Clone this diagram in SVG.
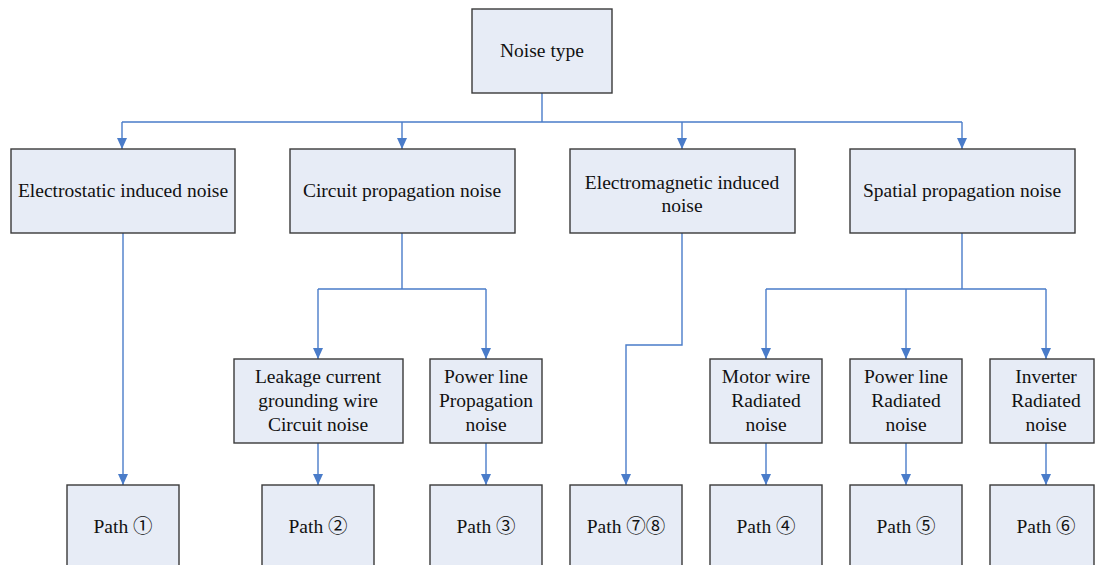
<svg xmlns="http://www.w3.org/2000/svg" width="1096" height="565" viewBox="0 0 1096 565">
  <style>
    .box { fill: #e7ecf6; stroke: #3a3a3a; stroke-width: 1.4; }
    .lbl { font-family: "Liberation Serif", "Times New Roman", "Noto Sans CJK SC", serif; font-size: 19.5px; fill: #111; text-anchor: middle; }
    .wire { fill: none; stroke: #4a7cc9; stroke-width: 1.4; }
    .arrow { fill: none; stroke: #4a7cc9; stroke-width: 1.4; marker-end: url(#tip); }
  </style>
  <defs>
    <!-- filled triangular head, pointing along the line direction -->
    <marker id="tip" viewBox="0 0 11 10" refX="11" refY="5" markerWidth="11" markerHeight="10" markerUnits="userSpaceOnUse" orient="auto">
      <path d="M0,0 L11,5 L0,10 Z" fill="#4a7cc9"/>
    </marker>
  </defs>
  <rect width="1096" height="565" fill="#ffffff"/>

  <!-- connectors -->
  <g id="connectors">
    <path class="wire" d="M542,93 V122 M122,122 H962"/>
    <path class="arrow" d="M122,122 V149"/>
    <path class="arrow" d="M402,122 V149"/>
    <path class="arrow" d="M682,122 V149"/>
    <path class="arrow" d="M962,122 V149"/>

    <path class="arrow" d="M123,233 V485"/>

    <path class="wire" d="M402,233 V289 M318,289 H486"/>
    <path class="arrow" d="M318,289 V359"/>
    <path class="arrow" d="M486,289 V359"/>

    <path class="arrow" d="M682,233 V345 H626 V485"/>

    <path class="wire" d="M962,233 V289 M766,289 H1046"/>
    <path class="arrow" d="M766,289 V359"/>
    <path class="arrow" d="M906,289 V359"/>
    <path class="arrow" d="M1046,289 V359"/>

    <path class="arrow" d="M318,443 V485"/>
    <path class="arrow" d="M486,443 V485"/>
    <path class="arrow" d="M766,443 V485"/>
    <path class="arrow" d="M906,443 V485"/>
    <path class="arrow" d="M1046,443 V485"/>
  </g>

  <!-- root -->
  <g id="noise-type">
    <rect class="box" x="472" y="9" width="140" height="84"/>
    <text class="lbl" x="542" y="57">Noise type</text>
  </g>

  <!-- first level -->
  <g id="electrostatic">
    <rect class="box" x="11" y="149" width="224" height="84"/>
    <text class="lbl" x="123" y="197">Electrostatic induced noise</text>
  </g>
  <g id="circuit">
    <rect class="box" x="290" y="149" width="225" height="84"/>
    <text class="lbl" x="402" y="197">Circuit propagation noise</text>
  </g>
  <g id="electromagnetic">
    <rect class="box" x="570" y="149" width="225" height="84"/>
    <text class="lbl" x="682" y="189">Electromagnetic induced</text>
    <text class="lbl" x="682" y="212">noise</text>
  </g>
  <g id="spatial">
    <rect class="box" x="850" y="149" width="225" height="84"/>
    <text class="lbl" x="962" y="197">Spatial propagation noise</text>
  </g>

  <!-- second level -->
  <g id="leakage">
    <rect class="box" x="234" y="359" width="169" height="84"/>
    <text class="lbl" x="318" y="383">Leakage current</text>
    <text class="lbl" x="318" y="407">grounding wire</text>
    <text class="lbl" x="318" y="431">Circuit noise</text>
  </g>
  <g id="power-propagation">
    <rect class="box" x="430" y="359" width="112" height="84"/>
    <text class="lbl" x="486" y="383">Power line</text>
    <text class="lbl" x="486" y="407">Propagation</text>
    <text class="lbl" x="486" y="431">noise</text>
  </g>
  <g id="motor-radiated">
    <rect class="box" x="710" y="359" width="112" height="84"/>
    <text class="lbl" x="766" y="383">Motor wire</text>
    <text class="lbl" x="766" y="407">Radiated</text>
    <text class="lbl" x="766" y="431">noise</text>
  </g>
  <g id="power-radiated">
    <rect class="box" x="850" y="359" width="112" height="84"/>
    <text class="lbl" x="906" y="383">Power line</text>
    <text class="lbl" x="906" y="407">Radiated</text>
    <text class="lbl" x="906" y="431">noise</text>
  </g>
  <g id="inverter-radiated">
    <rect class="box" x="990" y="359" width="104" height="84"/>
    <text class="lbl" x="1046" y="383">Inverter</text>
    <text class="lbl" x="1046" y="407">Radiated</text>
    <text class="lbl" x="1046" y="431">noise</text>
  </g>

  <!-- paths -->
  <g id="path-1">
    <rect class="box" x="67" y="485" width="112" height="90"/>
    <text class="lbl" x="123" y="533">Path ①</text>
  </g>
  <g id="path-2">
    <rect class="box" x="262" y="485" width="112" height="90"/>
    <text class="lbl" x="318" y="533">Path ②</text>
  </g>
  <g id="path-3">
    <rect class="box" x="430" y="485" width="112" height="90"/>
    <text class="lbl" x="486" y="533">Path ③</text>
  </g>
  <g id="path-78">
    <rect class="box" x="570" y="485" width="112" height="90"/>
    <text class="lbl" x="626" y="533">Path ⑦⑧</text>
  </g>
  <g id="path-4">
    <rect class="box" x="710" y="485" width="112" height="90"/>
    <text class="lbl" x="766" y="533">Path ④</text>
  </g>
  <g id="path-5">
    <rect class="box" x="850" y="485" width="112" height="90"/>
    <text class="lbl" x="906" y="533">Path ⑤</text>
  </g>
  <g id="path-6">
    <rect class="box" x="990" y="485" width="104" height="90"/>
    <text class="lbl" x="1046" y="533">Path ⑥</text>
  </g>
</svg>
